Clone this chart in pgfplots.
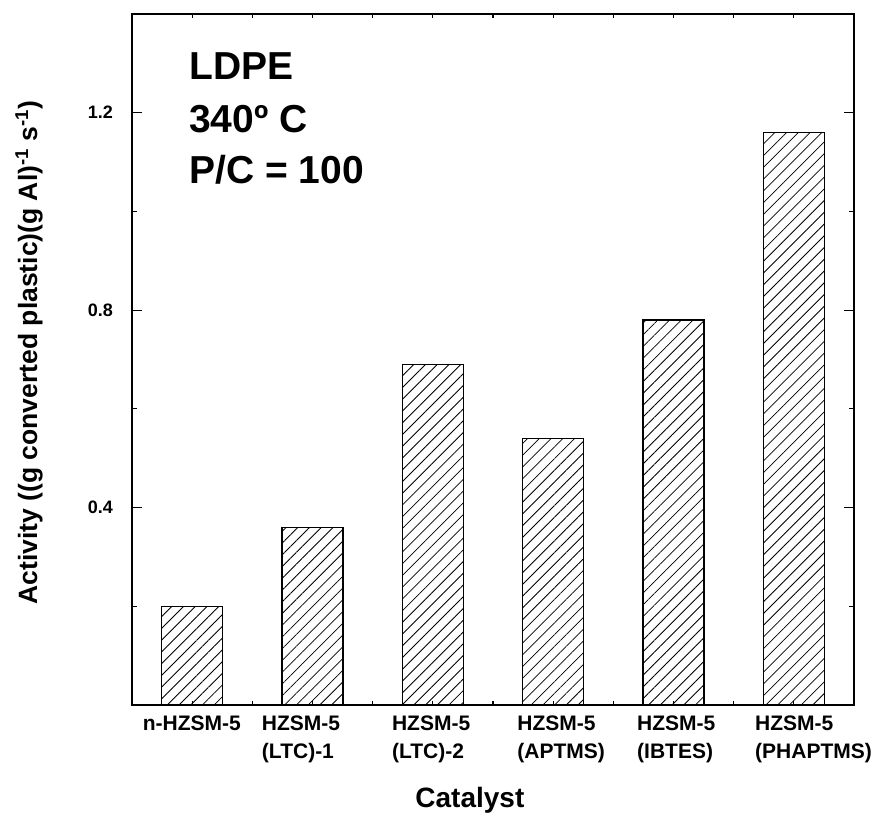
\documentclass[border=0pt]{standalone}
\usepackage{fontspec}
\setmainfont{Liberation Sans}
\usepackage{pgfplots}
\pgfplotsset{compat=1.18}
\usetikzlibrary{patterns.meta}
\begin{document}
\begin{tikzpicture}
\begin{axis}[
  scale only axis, width=722bp, height=691bp,
  xmin=-0.5, xmax=5.5, ymin=0, ymax=1.4,
  clip=false,
  axis line style={line width=1.5bp},
  xtick={0,1,2,3,4,5}, xticklabels={},
  minor xtick={0.5,1.5,2.5,3.5,4.5},
  ytick={0.4,0.8,1.2}, minor ytick={0.2,0.6,1.0},
  tick pos=both, tick align=inside,
  major tick length=10bp, minor tick length=5bp,
  tick style={line width=1.2bp, black},
  xtick style={/pgfplots/major tick length=4bp, /pgfplots/minor tick length=4bp},
  /pgf/number format/assume math mode=true,
  yticklabel style={font=\fontsize{18bp}{20bp}\selectfont\bfseries, inner sep=0pt, anchor=east, xshift=-19bp,
    /pgf/number format/fixed, /pgf/number format/precision=1, /pgf/number format/fixed zerofill},
]
\addplot[ybar, bar width=61bp, draw=black, line width=1.2bp,
  pattern={Lines[angle=45,distance=8.3bp,line width=0.8bp]}, pattern color=black]
  coordinates {(0,0.20) (1,0.36) (2,0.69) (3,0.54) (4,0.78) (5,1.16)};
\coordinate (bl) at (rel axis cs:0,0);
\coordinate (tr) at (rel axis cs:1,1);
\node[anchor=base west, inner sep=0pt, font=\fontsize{39bp}{40bp}\selectfont\bfseries] at (rel axis cs:0.079,0.9045) {LDPE};
\node[anchor=base west, inner sep=0pt, font=\fontsize{39bp}{40bp}\selectfont\bfseries] at (rel axis cs:0.079,0.8278) {340º C};
\node[anchor=base west, inner sep=0pt, font=\fontsize{39bp}{40bp}\selectfont\bfseries] at (rel axis cs:0.079,0.754) {P/C = 100};
\tikzset{catlab/.style={anchor=north west, align=left, inner sep=0pt, yshift=-11bp, font=\fontsize{21bp}{28bp}\selectfont\bfseries}}
\node[catlab, xshift=-49.5bp] at (axis cs:0,0) {n-HZSM-5};
\node[catlab, xshift=-50.7bp] at (axis cs:1,0) {HZSM-5\\(LTC)-1};
\node[catlab, xshift=-41bp] at (axis cs:2,0) {HZSM-5\\(LTC)-2};
\node[catlab, xshift=-36bp] at (axis cs:3,0) {HZSM-5\\(APTMS)};
\node[catlab, xshift=-36.5bp] at (axis cs:4,0) {HZSM-5\\(IBTES)};
\node[catlab, xshift=-38.8bp] at (axis cs:5,0) {HZSM-5\\(PHAPTMS)};
\node[font=\fontsize{28bp}{30bp}\selectfont\bfseries, anchor=center] at (rel axis cs:0.468,-0.1375) {Catalyst};
\node[font=\fontsize{26.5bp}{28bp}\selectfont\bfseries, anchor=center, rotate=90] at (rel axis cs:-0.1427,0.510) {Activity ((g converted plastic)(g Al)\textsuperscript{-1} s\textsuperscript{-1})};
\end{axis}
\pgfresetboundingbox
\path[use as bounding box] ([shift={(-132bp,-132bp)}]bl) rectangle ([shift={(28bp,14bp)}]tr);
\end{tikzpicture}
\end{document}
